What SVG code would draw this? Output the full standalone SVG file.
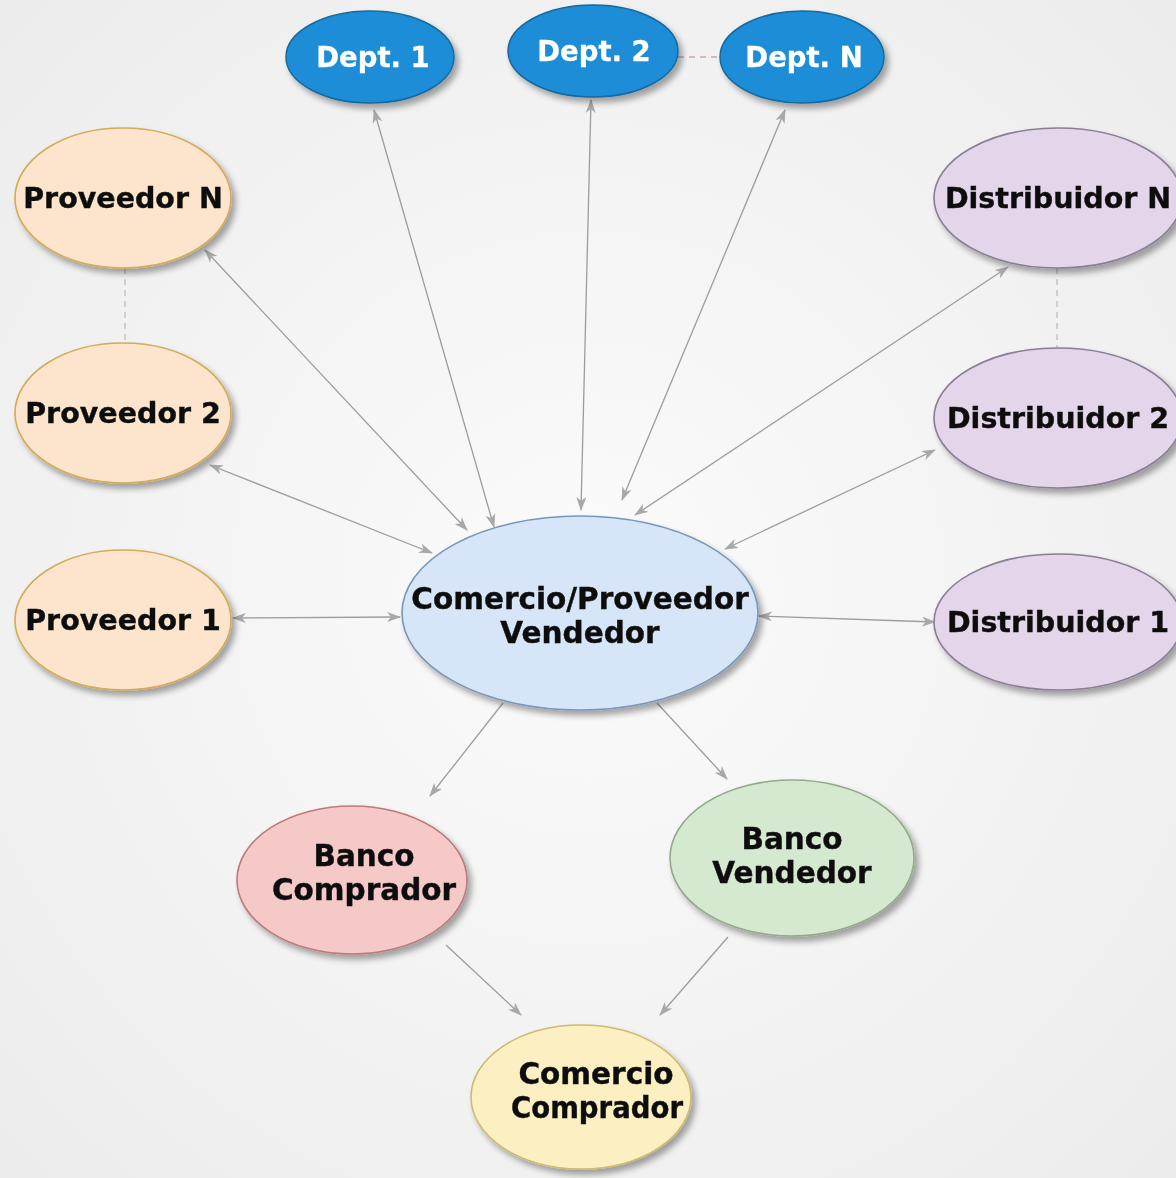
<svg xmlns="http://www.w3.org/2000/svg" width="1176" height="1178" viewBox="0 0 1176 1178">
<defs>
<radialGradient id="bg" cx="50%" cy="50%" r="70%">
<stop offset="0" stop-color="#fbfbfb"/>
<stop offset="1" stop-color="#ececec"/>
</radialGradient>
<filter id="sh" x="-20%" y="-20%" width="150%" height="150%">
<feGaussianBlur in="SourceAlpha" stdDeviation="3"/>
<feOffset dx="4" dy="5" result="b"/>
<feComponentTransfer><feFuncA type="linear" slope="0.35"/></feComponentTransfer>
<feMerge><feMergeNode/><feMergeNode in="SourceGraphic"/></feMerge>
</filter>
<marker id="ah" viewBox="0 0 14 10" refX="13" refY="5" markerWidth="14" markerHeight="10" markerUnits="userSpaceOnUse" orient="auto-start-reverse">
<path d="M0,0 L14,5 L0,10 L4,5 Z" fill="#a8a8a8"/>
</marker>
<style>
.t{font-family:"DejaVu Sans","Verdana",sans-serif;font-weight:bold;font-size:28.5px;text-anchor:middle;fill:#111;stroke:#111;stroke-width:0.4}
.m{font-size:29.5px}
.tw{font-family:"DejaVu Sans","Verdana",sans-serif;font-weight:bold;font-size:27.5px;text-anchor:middle;fill:#ffffff;stroke:#ffffff;stroke-width:0.3}
.c{stroke:#9c9c9c;stroke-width:1.3;fill:none}
.a2{marker-start:url(#ah);marker-end:url(#ah)}
.a1{marker-end:url(#ah)}
.d{stroke-dasharray:6 5}
.dept{fill:#1b8dd6;stroke:#13699f;stroke-width:1.5}
.prov{fill:#fde4cc;stroke:#d3ab5a;stroke-width:1.6}
.dist{fill:#e3d6ea;stroke:#8a7e95;stroke-width:1.6}
.cen{fill:#d6e6f8;stroke:#7896ba;stroke-width:1.6}
.bc{fill:#f6c9c9;stroke:#bd7a7a;stroke-width:1.6}
.bv{fill:#d5e9d1;stroke:#92aa8a;stroke-width:1.6}
.cc{fill:#fcf0c3;stroke:#cfba70;stroke-width:1.6}
</style>
</defs>
<rect width="1176" height="1178" fill="url(#bg)"/>

<g id="connectors">
<line class="c d" x1="125" y1="268" x2="125" y2="344" style="stroke:#bdbdbd"/>
<line class="c d" x1="1057" y1="268" x2="1057" y2="348" style="stroke:#bdbdbd"/>
<line class="c d" x1="678" y1="57" x2="720" y2="57" style="stroke:#d9a0a8"/>
<line class="c a2" x1="374" y1="110" x2="494" y2="527"/>
<line class="c a2" x1="591" y1="100" x2="581" y2="510"/>
<line class="c a2" x1="785" y1="110" x2="622" y2="500"/>
<line class="c a2" x1="205" y1="250" x2="467" y2="530"/>
<line class="c a2" x1="210" y1="465" x2="432" y2="553"/>
<line class="c a2" x1="233" y1="618" x2="400" y2="617"/>
<line class="c a2" x1="1008" y1="267" x2="635" y2="515"/>
<line class="c a2" x1="935" y1="450" x2="725" y2="549"/>
<line class="c a2" x1="935" y1="622" x2="759" y2="616"/>
<line class="c a1" x1="503" y1="703" x2="430" y2="796"/>
<line class="c a1" x1="657" y1="703" x2="727" y2="779"/>
<line class="c a1" x1="446" y1="945" x2="521" y2="1015"/>
<line class="c a1" x1="728" y1="937" x2="660" y2="1015"/>
</g>

<g id="dept1" filter="url(#sh)"><ellipse class="dept" cx="370" cy="57" rx="84" ry="46"/><text class="tw" x="373" y="67">Dept. 1</text></g>
<g id="dept2" filter="url(#sh)"><ellipse class="dept" cx="593" cy="51" rx="85" ry="46"/><text class="tw" x="594" y="61">Dept. 2</text></g>
<g id="deptN" filter="url(#sh)"><ellipse class="dept" cx="802" cy="57" rx="82" ry="46"/><text class="tw" x="804" y="67">Dept. N</text></g>

<g id="provN" filter="url(#sh)"><ellipse class="prov" cx="123" cy="198" rx="108" ry="70"/><text class="t" x="123" y="208">Proveedor N</text></g>
<g id="prov2" filter="url(#sh)"><ellipse class="prov" cx="123" cy="413" rx="108" ry="70"/><text class="t" x="123" y="423">Proveedor 2</text></g>
<g id="prov1" filter="url(#sh)"><ellipse class="prov" cx="123" cy="620" rx="108" ry="70"/><text class="t" x="123" y="630">Proveedor 1</text></g>

<g id="distN" filter="url(#sh)"><ellipse class="dist" cx="1058" cy="198" rx="124" ry="70"/><text class="t" x="1058" y="208">Distribuidor N</text></g>
<g id="dist2" filter="url(#sh)"><ellipse class="dist" cx="1058" cy="418" rx="124" ry="70"/><text class="t" x="1058" y="428">Distribuidor 2</text></g>
<g id="dist1" filter="url(#sh)"><ellipse class="dist" cx="1058" cy="622" rx="124" ry="68"/><text class="t" x="1058" y="632">Distribuidor 1</text></g>

<g id="center" filter="url(#sh)"><ellipse class="cen" cx="580" cy="613" rx="178" ry="97"/><text class="t m" x="580" y="609">Comercio/Proveedor</text><text class="t m" x="580" y="643">Vendedor</text></g>

<g id="bancoComprador" filter="url(#sh)"><ellipse class="bc" cx="352" cy="880" rx="115" ry="74"/><text class="t m" x="364" y="866">Banco</text><text class="t m" x="364" y="900">Comprador</text></g>
<g id="bancoVendedor" filter="url(#sh)"><ellipse class="bv" cx="792" cy="858" rx="122" ry="78"/><text class="t m" x="792" y="849">Banco</text><text class="t m" x="792" y="883">Vendedor</text></g>
<g id="comercioComprador" filter="url(#sh)"><ellipse class="cc" cx="581" cy="1097" rx="110" ry="72"/><text class="t m" x="596" y="1084">Comercio</text><text class="t m" x="597" y="1118" textLength="172" lengthAdjust="spacingAndGlyphs">Comprador</text></g>
</svg>
